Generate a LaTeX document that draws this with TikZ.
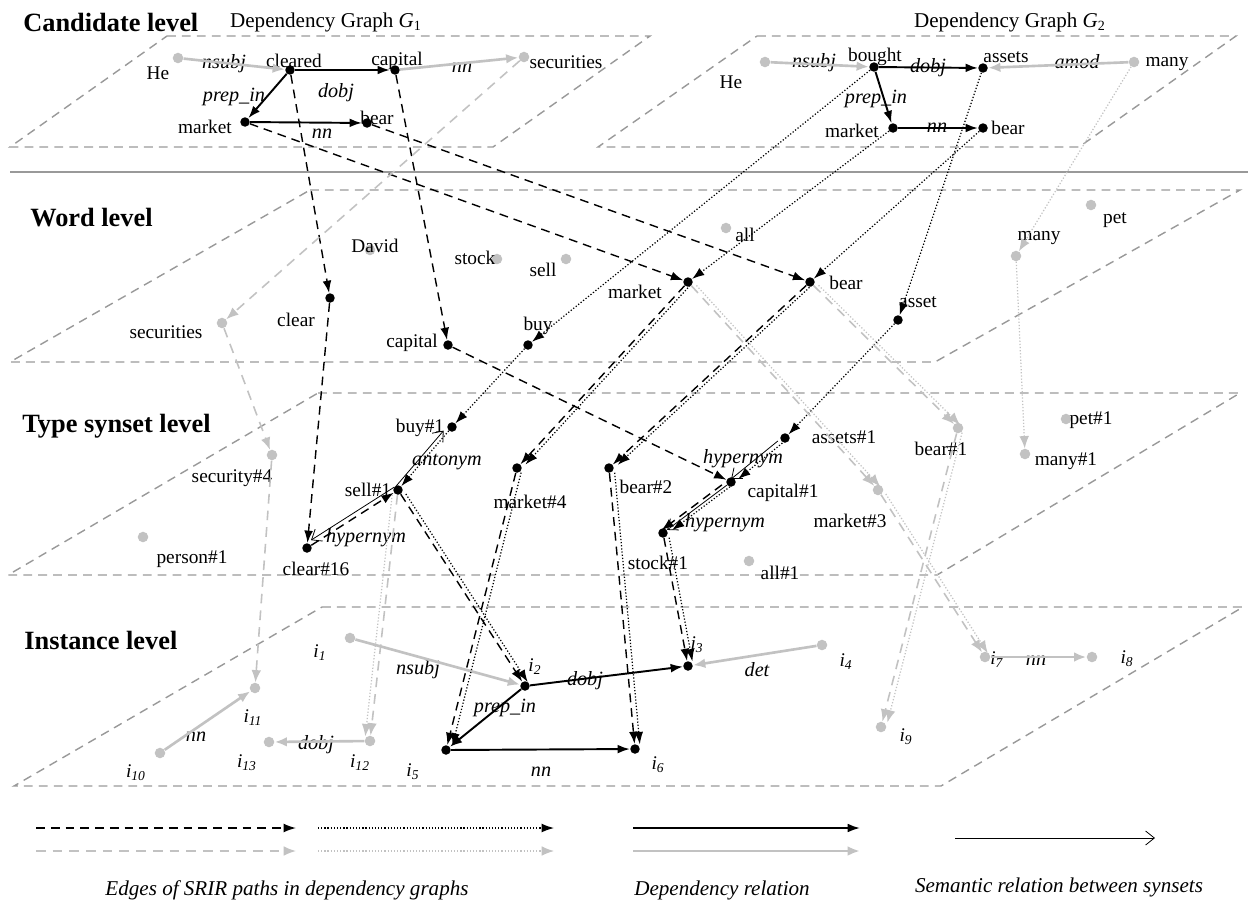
\documentclass[tikz,border=0pt]{standalone}
\usepackage{fontspec}
\setmainfont{Liberation Serif}
\usetikzlibrary{arrows.meta}
\definecolor{lgray}{rgb}{0.76,0.76,0.76}
\definecolor{pgray}{rgb}{0.6,0.6,0.6}
\newcommand\inst[1]{\textit{i}\textsubscript{\textit{#1}}}

\begin{document}
\begin{tikzpicture}[x=0.02cm, y=-0.02cm,
    bnode/.style={circle, fill=black, inner sep=0pt, minimum size=5.4pt},
    gnode/.style={circle, fill=lgray, inner sep=0pt, minimum size=6pt},
    lbl/.style={font=\fontsize{11}{13}\selectfont, inner sep=0pt},
    elbl/.style={font=\fontsize{11.5}{13}\selectfont\itshape, inner sep=0pt},
    legcap/.style={font=\fontsize{12}{14}\selectfont\itshape, inner sep=0pt},
    head/.style={font=\fontsize{15}{18}\selectfont\bfseries, anchor=west, inner sep=0pt},
    plane/.style={pgray, line width=0.8pt, dash pattern=on 5pt off 3.5pt},
    dep/.style={black, line width=1.1pt, -{Latex[length=7pt,width=5pt]}},
    gdep/.style={lgray, line width=1.5pt, -{Latex[length=7pt,width=5.5pt]}},
    sdash/.style={black, line width=0.8pt, dash pattern=on 5pt off 3.4pt, -{Latex[length=7pt,width=5pt]}},
    sdot/.style={black, line width=0.7pt, dash pattern=on 0.7pt off 1.1pt, -{Latex[length=7pt,width=5pt]}},
    gdash/.style={lgray, line width=0.9pt, dash pattern=on 5.5pt off 4pt, -{Latex[length=7pt,width=5.5pt]}},
    gdotted/.style={lgray, line width=0.7pt, dash pattern=on 0.7pt off 1.1pt, -{Latex[length=7pt,width=5.5pt]}},
    sem/.style={black, line width=0.45pt, -{Straight Barb[length=5pt,width=8pt]}},
    twin/.style={shorten >=2.7pt, shorten <=2.7pt}]
  \useasboundingbox (0,0) rectangle (1248,907);

  \draw[plane] (167,36) -- (650,36) -- (493,147) -- (10,147) -- cycle;
  \draw[plane] (757,36) -- (1236,36) -- (1079,147) -- (598,147) -- cycle;
  \draw[pgray, line width=1pt] (10,172) -- (1248,172);
  \draw[plane] (310,190) -- (1240,190) -- (935,362) -- (10,362) -- cycle;
  \draw[plane] (318,393) -- (1240,393) -- (937,575) -- (8,575) -- cycle;
  \draw[plane] (322,607) -- (1243,607) -- (941,786) -- (14,786) -- cycle;

  \node[head] (hcand) at (23,22) {Candidate level};
  \node[head] (hword) at (30,218) {Word level};
  \node[head] (htype) at (22,426) {Type synset level};
  \node[head] (hinst) at (24,640) {Instance level};
  \node[font=\fontsize{12}{14}\selectfont, inner sep=0pt] (g1) at (326,22) {Dependency Graph \textit{G}\textsubscript{1}};
  \node[font=\fontsize{12}{14}\selectfont, inner sep=0pt] (g2) at (1010,22) {Dependency Graph \textit{G}\textsubscript{2}};

  \foreach \nm/\st/\pos/\txt/\tpos in {
      c1he/gnode/{178,58}/He/{158,73}, c1cleared/bnode/{290,70}/cleared/{294,61},
      c1capital/bnode/{395,70}/capital/{397,61}, c1securities/gnode/{524,57}/securities/{566,62},
      c1market/bnode/{245,122}/market/{205,127}, c1bear/bnode/{367,123}/bear/{377,118},
      c2he/gnode/{765,62}/He/{731,82}, c2bought/bnode/{874,67}/bought/{875,57},
      c2assets/bnode/{983,68}/assets/{1006,57}, c2many/gnode/{1134,62}/many/{1167,64},
      c2market/bnode/{893,128}/market/{852,131}, c2bear/bnode/{983,128}/bear/{1008,128},
      wdavid/gnode/{370,250}/David/{375,246}, wstock/gnode/{497,259}/stock/{475,258},
      wsell/gnode/{566,259}/sell/{543,270}, wall/gnode/{726,228}/all/{745,235},
      wpet/gnode/{1091,205}/pet/{1115,220}, wmany/gnode/{1016,256}/many/{1039,238},
      wmarket/bnode/{688,282}/market/{635,292}, wbear/bnode/{810,282}/bear/{846,283},
      wasset/bnode/{898,320}/asset/{918,302}, wsecurities/gnode/{222,323}/securities/{166,332},
      wclear/bnode/{330,298}/clear/{296,320}, wcapital/bnode/{448,345}/capital/{412,343},
      wbuy/bnode/{528,345}/buy/{538,326},
      sbuy/bnode/{452,427}/buy\#1/{420,428}, ssell/bnode/{398,490}/sell\#1/{368,490},
      sclear/bnode/{307,548}/clear\#16/{316,569}, ssecurity/gnode/{272,455}/security\#4/{232,478},
      sperson/gnode/{143,537}/person\#1/{192,559}, smarket4/bnode/{517,468}/market\#4/{530,502},
      sbear2/bnode/{609,468}/bear\#2/{646,487}, scapital/bnode/{731,482}/capital\#1/{783,493},
      sassets/bnode/{785,438}/assets\#1/{844,437}, sstock/bnode/{663,533}/stock\#1/{658,563},
      sall/gnode/{749,561}/all\#1/{780,573}, smarket3/gnode/{878,490}/market\#3/{850,521},
      sbear1/gnode/{958,428}/bear\#1/{941,449}, spet/gnode/{1066,419}/pet\#1/{1091,420},
      smany/gnode/{1025,454}/many\#1/{1066,461},
      i1/gnode/{350,638}/\inst{1}/{320,653}, i2/bnode/{525,686}/\inst{2}/{535,667},
      i3/bnode/{688,666}/\inst{3}/{697,645}, i4/gnode/{822,645}/\inst{4}/{846,662},
      i5/bnode/{446,750}/\inst{5}/{413,772}, i6/bnode/{635,749}/\inst{6}/{658,765},
      i7/gnode/{985,657}/\inst{7}/{997,660}, i8/gnode/{1092,657}/\inst{8}/{1127,659},
      i9/gnode/{881,727}/\inst{9}/{906,737}, i10/gnode/{160,753}/\inst{10}/{136,773},
      i11/gnode/{255,688}/\inst{11}/{253,718}, i12/gnode/{370,741}/\inst{12}/{360,763},
      i13/gnode/{269,742}/\inst{13}/{247,763}}
    {\node[\st] (\nm) at (\pos) {}; \node[lbl] (\nm-t) at (\tpos) {\txt};}

  \foreach \nm/\pos/\txt in {
      e1/{224,64}/nsubj, e2/{336,93}/dobj, e3/{462,68}/nn, e4/{234,97}/prep\_in, e5/{322,134}/nn,
      e6/{814,63}/nsubj, e7/{928,68}/dobj, e8/{1077,62}/amod, e9/{876,99}/prep\_in, e10/{937,128}/nn,
      e11/{447,462}/antonym, e12/{366,538}/hypernym, e13/{743,459}/hypernym, e14/{725,523}/hypernym,
      e15/{418,670}/nsubj, e16/{585,681}/dobj, e17/{757,670}/det, e18/{505,708}/prep\_in,
      e19/{541,772}/nn, e20/{1036,661}/nn, e21/{196,737}/nn, e22/{316,745}/dobj}
    {\node[elbl] (\nm) at (\pos) {\txt};}

  \draw[gdep] (c1he) -- (c1cleared);
  \draw[dep] (c1cleared) -- (c1capital);
  \draw[gdep] (c1capital) -- (c1securities);
  \draw[dep] (c1cleared) -- (c1market);
  \draw[dep] (c1market) -- (c1bear);
  \draw[gdep] (c2he) -- (c2bought);
  \draw[dep] (c2bought) -- (c2assets);
  \draw[gdep] (c2many) -- (c2assets);
  \draw[dep] (c2bought) -- (c2market);
  \draw[dep] (c2market) -- (c2bear);
  \draw[gdep] (i1) -- (i2);
  \draw[dep] (i2) -- (i3);
  \draw[gdep] (i4) -- (i3);
  \draw[dep] (i2) -- (i5);
  \draw[dep] (i5) -- (i6);
  \draw[gdep] (i7) -- (i8);
  \draw[gdep] (i10) -- (i11);
  \draw[gdep] (i12) -- (i13);

  \draw[sdash] (c1cleared) -- (wclear);
  \draw[sdash] (wclear) -- (sclear);
  \draw[sdash] (sclear) -- (ssell);
  \draw[sdash] (ssell) -- (i2);
  \draw[sdash] (c1capital) -- (wcapital);
  \draw[sdash] (wcapital) -- (scapital);
  \draw[sdash, twin] ([xshift=-3pt]scapital.center) -- ([xshift=-3pt]sstock.center);
  \draw[sdash] (sstock) -- (i3);
  \draw[sdash] (c1market) -- (wmarket);
  \draw[sdash] (wmarket) -- (smarket4);
  \draw[sdash] (smarket4) -- (i5);
  \draw[sdash] (c1bear) -- (wbear);
  \draw[sdash] (wbear) -- (sbear2);
  \draw[sdash] (sbear2) -- (i6);

  \draw[sdot] (c2bought) -- (wbuy);
  \draw[sdot] (wbuy) -- (sbuy);
  \draw[sdot] (sbuy) -- (ssell);
  \draw[sdot, twin] ([xshift=3pt]ssell.center) -- ([xshift=3pt]i2.center);
  \draw[sdot] (c2market) -- (wmarket);
  \draw[sdot, twin] ([xshift=3pt]wmarket.center) -- ([xshift=3pt]smarket4.center);
  \draw[sdot, twin] ([xshift=3pt]smarket4.center) -- ([xshift=3pt]i5.center);
  \draw[sdot] (c2bear) -- (wbear);
  \draw[sdot, twin] ([xshift=3pt]wbear.center) -- ([xshift=3pt]sbear2.center);
  \draw[sdot, twin] ([xshift=3pt]sbear2.center) -- ([xshift=3pt]i6.center);
  \draw[sdot] (c2assets) -- (wasset);
  \draw[sdot] (wasset) -- (sassets);
  \draw[sdot, twin] ([xshift=2pt]sassets.center) -- ([xshift=2pt]scapital.center);
  \draw[sdot, twin] ([xshift=3pt]scapital.center) -- ([xshift=3pt]sstock.center);
  \draw[sdot, twin] ([xshift=3pt]sstock.center) -- ([xshift=3pt]i3.center);

  \draw[gdash] (c1securities) -- (wsecurities);
  \draw[gdash] (wsecurities) -- (ssecurity);
  \draw[gdash] (ssecurity) -- (i11);
  \draw[gdash] (wmarket) -- (smarket3);
  \draw[gdash] (smarket3) -- (i7);
  \draw[gdash] (wbear) -- (sbear1);
  \draw[gdash] (sbear1) -- (i9);
  \draw[gdash] (ssell) -- (i12);
  \draw[gdotted] (c2many) -- (wmany);
  \draw[gdotted] (wmany) -- (smany);
  \draw[gdotted, twin] ([xshift=3pt]wmarket.center) -- ([xshift=3pt]smarket3.center);
  \draw[gdotted, twin] ([xshift=3pt]smarket3.center) -- ([xshift=3pt]i7.center);
  \draw[gdotted, twin] ([xshift=3pt]wbear.center) -- ([xshift=3pt]sbear1.center);
  \draw[gdotted, twin] ([xshift=3pt]sbear1.center) -- ([xshift=3pt]i9.center);
  \draw[gdotted, twin] ([xshift=-3pt]ssell.center) -- ([xshift=-3pt]i12.center);

  \draw[sem, twin] ([xshift=-3pt]ssell.center) -- ([xshift=-3pt]sbuy.center);
  \draw[sem, twin] ([yshift=3pt]ssell.center) -- ([yshift=3pt]sclear.center);
  \draw[sem, twin] ([xshift=-2pt]sassets.center) -- ([xshift=-2pt]scapital.center);
  \draw[sem] (scapital) -- (sstock);

  \foreach \s/\a/\b/\y in {sdash/36/296/828, sdot/318/554/828, dep/633/860/828,
      gdash/36/296/851, gdotted/318/554/851, gdep/633/860/851, sem/955/1155/838}
    {\coordinate (\s-a) at (\a,\y); \coordinate (\s-b) at (\b,\y); \draw[\s] (\s-a) -- (\s-b);}
  \node[legcap] (cap1) at (287,890) {Edges of SRIR paths in dependency graphs};
  \node[legcap] (cap2) at (722,890) {Dependency relation};
  \node[legcap] (cap3) at (1059,887) {Semantic relation between synsets};
\end{tikzpicture}
\end{document}
